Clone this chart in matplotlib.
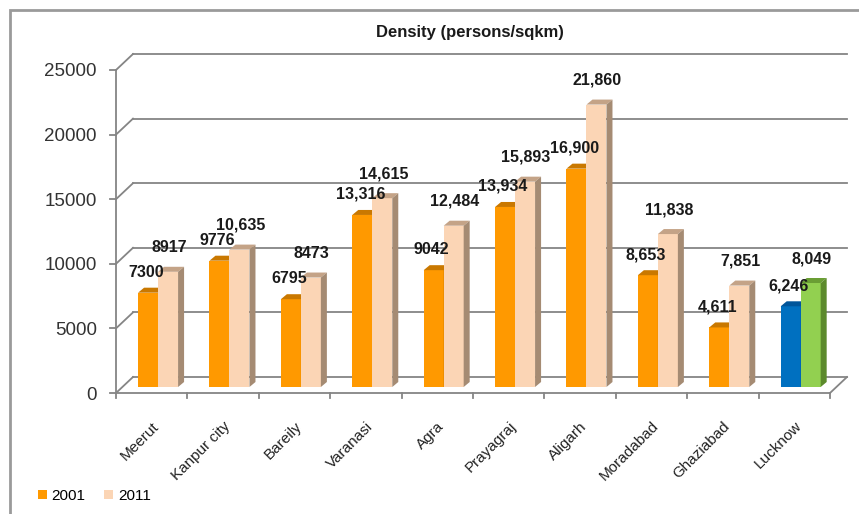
import numpy as np
import matplotlib.pyplot as plt
from matplotlib.patches import Polygon, Rectangle

cities = ['Meerut', 'Kanpur city', 'Bareily', 'Varanasi', 'Agra', 'Prayagraj',
          'Aligarh', 'Moradabad', 'Ghaziabad', 'Lucknow']
d2001 = [7300, 9776, 6795, 13316, 9042, 13934, 16900, 8653, 4611, 6246]
d2011 = [8917, 10635, 8473, 14615, 12484, 15893, 21860, 11838, 7851, 8049]
lab2001 = ['7300', '9776', '6795', '13,316', '9042', '13,934', '16,900', '8,653', '4,611', '6,246']
lab2011 = ['8917', '10,635', '8473', '14,615', '12,484', '15,893', '21,860', '11,838', '7,851', '8,049']
yticks = [0, 5000, 10000, 15000, 20000, 25000]

narrow = ['Liberation Sans', 'DejaVu Sans']

fig = plt.figure(figsize=(8.59, 5.14), dpi=100)
W, H = 859, 514
# front plane of the box in pixels
x0p, x1p, y0p, y1p = 116, 830, 393, 70
ax = fig.add_axes([x0p / W, 1 - y0p / H, (x1p - x0p) / W, (y0p - y1p) / H])
ax.set_xlim(0, 10)
ax.set_ylim(0, 25000)

pxx = 10 / (x1p - x0p)          # data units per pixel, x
pxy = 25000 / (y0p - y1p)       # data units per pixel, y
DX, DY = 17 * pxx, 16 * pxy     # depth of the box

grid_c = '#858585'
for v in yticks:
    ax.plot([DX, 10 + DX], [v + DY, v + DY], color=grid_c, lw=1.3, clip_on=False, zorder=1)
    ax.plot([0, DX], [v, v + DY], color=grid_c, lw=1.3, clip_on=False, zorder=1)
    ax.plot([-6 * pxx, 0], [v, v], color=grid_c, lw=1.3, clip_on=False, zorder=1)
ax.plot([0, 0], [0, 25000], color=grid_c, lw=1.3, clip_on=False, zorder=1)
ax.plot([0, 10], [0, 0], color=grid_c, lw=1.3, clip_on=False, zorder=1)
ax.plot([10, 10 + DX], [0, DY], color=grid_c, lw=1.3, clip_on=False, zorder=1)
for i in range(11):
    ax.plot([i, i], [0, -5 * pxy], color=grid_c, lw=1.3, clip_on=False, zorder=1)

for s in ax.spines.values():
    s.set_visible(False)
ax.set_yticks(yticks)
ax.set_yticklabels([str(v) for v in yticks], fontsize=13.5, color='#333333', family=narrow)
ax.tick_params(axis='y', length=0, pad=13.7)
ax.set_xticks([])

# rotated category labels
for i, name in enumerate(cities):
    ax.text(i + 0.5 + 5 * pxx, -31 * pxy, name, rotation=45, ha='right', va='center',
            rotation_mode='anchor', fontsize=11, family=narrow, color='#222222', clip_on=False)

# bars placed at mid depth
f = 0.375
bx, by = f * DX, f * DY
bw = 20 * pxx
bdx, bdy = 6 * pxx, 5 * pxy

def draw_bar(xl, val, front, top, side, z):
    ax.bar(xl, val, width=bw, bottom=by, align='edge', color=front, lw=0, zorder=z, clip_on=False)
    yt = by + val
    ax.add_patch(Polygon([(xl, yt), (xl + bw, yt), (xl + bw + bdx, yt + bdy), (xl + bdx, yt + bdy)],
                         closed=True, fc=top, ec='none', zorder=z, clip_on=False))
    ax.add_patch(Polygon([(xl + bw, by), (xl + bw + bdx, by + bdy), (xl + bw + bdx, yt + bdy), (xl + bw, yt)],
                         closed=True, fc=side, ec='none', zorder=z, clip_on=False))

for i in range(10):
    c = i + 0.5 + bx
    if cities[i] == 'Lucknow':
        cols1 = ('#0070C0', '#00559a', '#00559a')
        cols2 = ('#92D050', '#6a9e34', '#5c8a2c')
    else:
        cols1 = ('#FF9900', '#c97800', '#c97800')
        cols2 = ('#FBD5B5', '#c4a387', '#a58b73')
    draw_bar(c - bw, d2001[i], *cols1, z=3 + 2 * i)
    draw_bar(c, d2011[i], *cols2, z=4 + 2 * i)
    ax.text(c - bw / 2 - 2 * pxx, by + d2001[i] + 13 * pxy, lab2001[i], ha='center', va='bottom',
            fontsize=11.5, fontweight='bold', family=narrow, color='#1a1a1a', zorder=40, clip_on=False)
    ax.text(c + bw / 2 + 1 * pxx, by + d2011[i] + 17 * pxy, lab2011[i], ha='center', va='bottom',
            fontsize=11.5, fontweight='bold', family=narrow, color='#1a1a1a', zorder=40, clip_on=False)

fig.text(470 / W, 1 - 32 / H, 'Density (persons/sqkm)', ha='center', va='center',
         fontsize=12, fontweight='bold', family=narrow, color='#1a1a1a')

handles = [Rectangle((0, 0), 1, 1, fc='#FF9900'), Rectangle((0, 0), 1, 1, fc='#FBD5B5')]
fig.legend(handles, ['2001', '2011'], loc='center left', bbox_to_anchor=(38 / W, 1 - 496 / H),
           ncol=2, frameon=False, handlelength=0.6, handleheight=0.6, handletextpad=0.3,
           columnspacing=1.2, borderpad=0, borderaxespad=0, prop={'family': narrow, 'size': 11})

fig.patches.append(Rectangle((10 / W, -0.1), 1.2, 1 - 10 / H + 0.1, transform=fig.transFigure,
                             fill=False, ec='#9a9a9a', lw=2))

fig.savefig('out.png', dpi=100)
